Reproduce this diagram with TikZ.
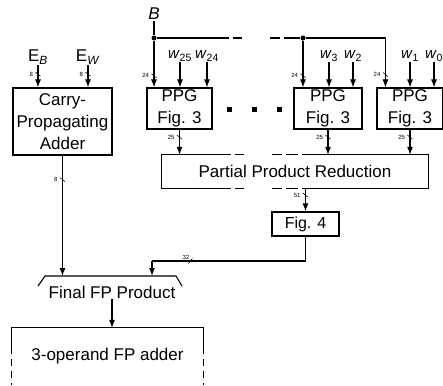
\documentclass[tikz,border=0pt]{standalone}
\usepackage{fontspec}
\setmainfont{Liberation Sans}
\usetikzlibrary{arrows.meta, positioning, calc, decorations.markings}
\tikzset{
  fpblock/.style={rectangle, draw=black, line width=1.1pt, inner sep=0pt,
                  align=center, font=\fontsize{17}{22}\selectfont},
  fpppg/.style={fpblock, minimum width=65pt, minimum height=41pt},
  fpin/.style={inner sep=1pt, font=\fontsize{17}{20}\selectfont},
  fpw/.style={inner sep=0.5pt, font=\fontsize{15}{18}\selectfont},
  fpline/.style={line width=1.1pt},
  fparrow/.style={fpline, -{Latex[length=8pt, width=6pt]}},
  fpwidth/.style={font=\fontsize{6}{6}\selectfont, inner sep=0.5pt, anchor=east},
  fpbus/.style 2 args={postaction={decorate, decoration={markings,
      mark=at position #1 with {\draw[-, line width=0.6pt] (-2pt,-2.5pt) -- (2pt,2.5pt);
                                \node[fpwidth] at (0,-4pt) {#2};}}}},
  fpgap/.style={dash pattern=on 9pt off 4pt on 9pt off 28pt on 10pt off 4pt on 12pt off 60pt},
  fpdot/.style={rectangle, fill=black, minimum size=5pt, inner sep=0pt},
  fpjoin/.style={circle, fill=black, minimum size=5pt, inner sep=0pt},
}

\begin{document}
\begin{tikzpicture}[x=1pt, y=-1pt]
  \useasboundingbox (0,0) rectangle (443,385);
  % Expoentes
  \node[fpin] (eb) at (38,57) {E\textsubscript{\textit{B}}};
  \node[fpin] (ew) at (88,57) {E\textsubscript{\textit{W}}};
  \node[fpblock, minimum width=99pt, minimum height=67pt] (cpa) at (62.5,121.5) {Carry-\\Propagating\\Adder};
  \draw[fparrow, fpbus={0.4}{8}] (eb) -- (eb |- cpa.north);
  \draw[fparrow, fpbus={0.4}{8}] (ew) -- (ew |- cpa.north);
  % Barramento B
  \node[fpin, font=\fontsize{17}{20}\selectfont\itshape] (b) at (154,14) {B};
  \node[fpjoin] (bj1) at (154,38) {};
  \node[fpjoin] (bj2) at (303,38) {};
  \coordinate (bg1) at (220,38);
  \coordinate (bg2) at (292,38);
  \draw[fpline] (b) -- (bj1) -- (bg1);
  \draw[fpline, fpgap] (bg1) -- (bg2);
  \draw[fpline] (bg2) -- (bj2);
  % PPG
  \node[fpppg] (ppg1) at (179.5,108.5) {PPG\\Fig. 3};
  \node[fpppg, minimum width=68pt] (ppg2) at (328,108.5) {PPG\\Fig. 3};
  \node[fpppg, minimum width=66pt] (ppg3) at (410,108.5) {PPG\\Fig. 3};
  \node[fpdot] (el1) at (229,109) {};
  \node[fpdot, right=20pt of el1] (el2) {};
  \node[fpdot, right=20pt of el2] (el3) {};
  % Entradas w
  \node[fpw] (w25) at (180,56) {\textit{w}\textsubscript{25}};
  \node[fpw] (w24) at (207,56) {\textit{w}\textsubscript{24}};
  \node[fpw] (w3) at (329,56) {\textit{w}\textsubscript{3}};
  \node[fpw] (w2) at (353,56) {\textit{w}\textsubscript{2}};
  \node[fpw] (w1) at (410,56) {\textit{w}\textsubscript{1}};
  \node[fpw] (w0) at (434,56) {\textit{w}\textsubscript{0}};
  \draw[fparrow] (w25) -- (w25 |- ppg1.north);
  \draw[fparrow] (w24) -- (w24 |- ppg1.north);
  \draw[fparrow] (w3) -- (w3 |- ppg2.north);
  \draw[fparrow] (w2) -- (w2 |- ppg2.north);
  \draw[fparrow] (w1) -- (w1 |- ppg3.north);
  \draw[fparrow] (w0) -- (w0 |- ppg3.north);
  \draw[fparrow, fpbus={0.75}{24}] (bj1) -- (bj1 |- ppg1.north);
  \draw[fparrow, fpbus={0.75}{24}] (bj2) -- (bj2 |- ppg2.north);
  \draw[fparrow, fpbus={0.9}{24}] (bj2) -| ($(ppg3.north west)+(9,0)$);
  % Reducao
  \node[minimum width=266pt, minimum height=33pt, inner sep=0pt,
        font=\fontsize{17}{20}\selectfont] (ppr) at (295,171.5) {Partial Product Reduction};
  \draw[fpline] ($(ppr.north west)+(60,0)$) -- (ppr.north west) -- (ppr.south west) -- ++(60,0);
  \draw[fpline] ($(ppr.north east)+(-126,0)$) -- (ppr.north east) -- (ppr.south east) -- ++(-126,0);
  \draw[fpline, fpgap] ($(ppr.north west)+(60,0)$) -- ($(ppr.north east)+(-126,0)$);
  \draw[fpline, fpgap] ($(ppr.south west)+(60,0)$) -- ($(ppr.south east)+(-126,0)$);
  \draw[fparrow, fpbus={0.3}{25}] (ppg1.south) -- (ppg1.south |- ppr.north);
  \draw[fparrow, fpbus={0.3}{25}] (ppg2.south) -- (ppg2.south |- ppr.north);
  \draw[fparrow, fpbus={0.3}{25}] (ppg3.south) -- (ppg3.south |- ppr.north);
  \node[fpblock, minimum width=67pt, minimum height=24pt, font=\fontsize{16}{20}\selectfont] (fig4) at (305.5,224) {Fig. 4};
  \draw[fparrow, fpbus={0.3}{51}] (ppr.south -| fig4.north) -- (fig4.north);
  % Produto final
  \node[fpin] (fin) at (112,292) {Final FP Product};
  \coordinate (finl) at (45,276);
  \coordinate (finr) at (176,276);
  \draw[fpline] ($(finl)+(-7,10)$) -- (finl) -- (finr) -- ++(6,10);
  \coordinate (j32) at (152,261);
  \coordinate (c32) at (fig4.south |- j32);
  \draw[fpline] (fig4.south) -- (c32);
  \draw[fpline, fpbus={0.75}{32}] (c32) -- (j32);
  \draw[fparrow] (j32) -- (j32 |- finl);
  \draw[fparrow, fpbus={0.2}{8}] (cpa.south) -- (cpa.south |- finl);
  % Somador
  \node[minimum width=191pt, minimum height=57pt, inner sep=0pt,
        font=\fontsize{17}{20}\selectfont] (fpadd) at (107.5,356.5) {3-operand FP adder};
  \coordinate (fpl) at ($(fpadd.north west)+(0,26)$);
  \coordinate (fpr) at ($(fpadd.north east)+(0,26)$);
  \draw[fparrow] (fin) -- (fin |- fpadd.north);
  \draw[fpline] (fpl) -- (fpadd.north west) -- (fpadd.north east) -- (fpr);
  \draw[fpline, dash pattern=on 7pt off 5pt] ($(fpl)+(0,5)$) -- (fpadd.south west);
  \draw[fpline, dash pattern=on 7pt off 5pt] ($(fpr)+(0,5)$) -- (fpadd.south east);
\end{tikzpicture}
\end{document}
